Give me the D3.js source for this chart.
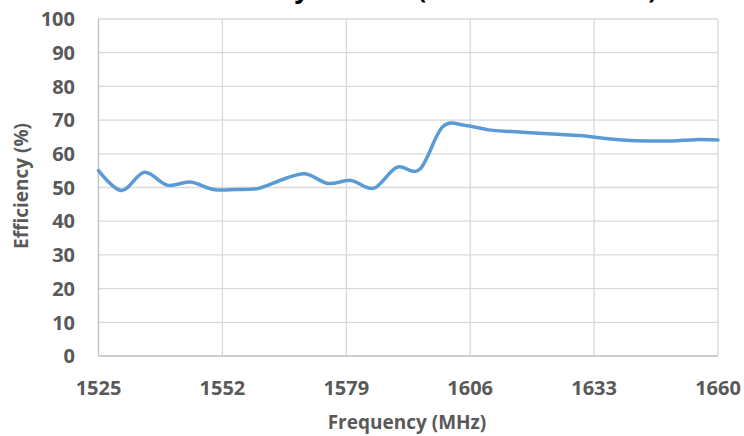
<html lang="en">
<head>
  <meta http-equiv="Content-Type" content="text/html; charset=utf-8" />
  <script src="https://d3js.org/d3.v7.min.js"></script>
  <style>
    body { margin: 0; background: #fff; }
    text { font-family: "Open Sans", sans-serif; font-weight: bold; }
  </style>
</head>
<body>
  <div id="chart"></div>
  <script>
    const title = "Total Efficiency Results (Measured Values)";
    const xTitle = "Frequency (MHz)";
    const yTitle = "Efficiency (%)";

    // measured points, every 5 MHz
    const frequency = [1525, 1530, 1535, 1540, 1545, 1550, 1555, 1560, 1565, 1570,
      1575, 1580, 1585, 1590, 1595, 1600, 1605, 1610, 1615, 1620,
      1625, 1630, 1635, 1640, 1645, 1650, 1655, 1660];
    const efficiency = [55.0, 49.1, 54.5, 50.7, 51.6, 49.4, 49.4, 49.8, 52.3, 54.1,
      51.2, 52.1, 49.8, 56.0, 55.4, 68.0, 68.4, 67.1, 66.6, 66.2,
      65.8, 65.4, 64.6, 64.0, 63.8, 63.8, 64.2, 64.1];
    const xTicks = [1525, 1552, 1579, 1606, 1633, 1660];
    const yTicks = [0, 10, 20, 30, 40, 50, 60, 70, 80, 90, 100];

    const svgWidth = 744, svgHeight = 436;
    const margin = {top: 19, right: 26, bottom: 80, left: 98.5};
    const width = svgWidth - margin.left - margin.right;
    const height = svgHeight - margin.top - margin.bottom;

    const svg = d3.select("#chart").append("svg")
      .attr("width", svgWidth).attr("height", svgHeight);

    const x = d3.scaleLinear().domain([1525, 1660]).range([0, width]);
    const y = d3.scaleLinear().domain([0, 100]).range([height, 0]);

    const g = svg.append("g").attr("transform", `translate(${margin.left},${margin.top})`);

    // grid
    g.selectAll(".hgrid").data(yTicks.slice(1)).join("line")
      .attr("x1", 0).attr("x2", width)
      .attr("y1", d => y(d)).attr("y2", d => y(d))
      .attr("stroke", "#d9d9d9").attr("stroke-width", 1.3);
    g.selectAll(".vgrid").data(xTicks.slice(1)).join("line")
      .attr("x1", d => x(d)).attr("x2", d => x(d))
      .attr("y1", 0).attr("y2", height)
      .attr("stroke", "#d9d9d9").attr("stroke-width", 1.3);

    // axes lines
    g.append("line").attr("x1", 0).attr("x2", 0).attr("y1", 0).attr("y2", height)
      .attr("stroke", "#bfbfbf").attr("stroke-width", 1.3);
    g.append("line").attr("x1", 0).attr("x2", width).attr("y1", height).attr("y2", height)
      .attr("stroke", "#bfbfbf").attr("stroke-width", 1.3);

    // tick labels
    g.selectAll(".ylab").data(yTicks).join("text")
      .attr("x", -23.5).attr("y", d => y(d)).attr("dy", "0.36em")
      .attr("text-anchor", "end").attr("font-size", 20).attr("fill", "#595959")
      .text(d => d);
    g.selectAll(".xlab").data(xTicks).join("text")
      .attr("x", d => x(d)).attr("y", height + 39)
      .attr("text-anchor", "middle").attr("font-size", 20).attr("fill", "#595959")
      .text(d => d);

    // axis titles
    svg.append("text").attr("x", 407).attr("y", 429)
      .attr("text-anchor", "middle").attr("font-size", 19).attr("fill", "#595959")
      .text(xTitle);
    svg.append("text").attr("transform", "translate(28,186) rotate(-90)")
      .attr("text-anchor", "middle").attr("font-size", 19).attr("fill", "#595959")
      .text(yTitle);

    // chart title, clipped by the top edge
    svg.append("text").attr("x", 657).attr("y", -2)
      .attr("text-anchor", "end").attr("font-size", 26).attr("fill", "#000")
      .text(title);

    const line = d3.line()
      .x((d, i) => x(frequency[i]))
      .y(d => y(d))
      .curve(d3.curveCatmullRom.alpha(0));

    g.append("path").datum(efficiency)
      .attr("d", line)
      .attr("fill", "none")
      .attr("stroke", "#5b9bd5")
      .attr("stroke-width", 3.5)
      .attr("stroke-linecap", "round");
  </script>
</body>
</html>
